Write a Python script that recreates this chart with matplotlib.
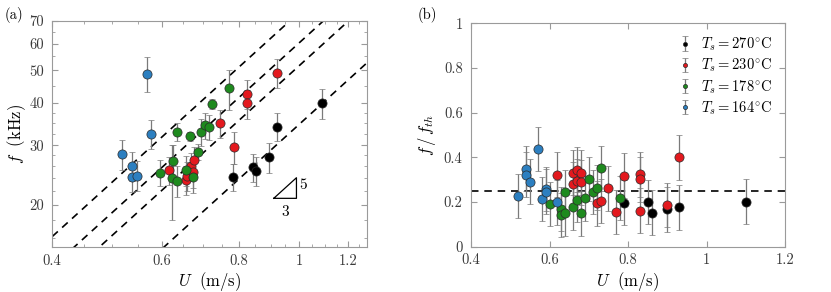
import numpy as np
import matplotlib
matplotlib.use('Agg')
import matplotlib.pyplot as plt
from matplotlib.ticker import FixedLocator, NullFormatter, FixedFormatter

plt.rcParams['font.family'] = 'serif'
plt.rcParams['font.serif'] = ['cmr10']
plt.rcParams['mathtext.fontset'] = 'cm'
plt.rcParams['axes.unicode_minus'] = False

# ---- panel (a): frequency vs velocity (log-log) ----
black_U_a = [0.783, 0.843, 0.853, 0.893, 0.920, 1.087]
black_f_a = [24.2, 25.8, 25.2, 27.7, 34.1, 40.0]
black_e_a = [2.3, 2.5, 2.5, 2.8, 3.3, 4.0]

red_U_a = [0.618, 0.656, 0.659, 0.669, 0.676, 0.675, 0.745, 0.784, 0.823, 0.823, 0.921]
red_f_a = [25.3, 23.7, 24.4, 26.0, 27.1, 25.0, 34.9, 29.7, 42.6, 39.9, 49.2]
red_e_a = [2.4, 2.3, 2.4, 2.5, 2.6, 2.5, 3.3, 3.2, 4.2, 3.9, 5.0]

green_U_a = [0.597, 0.626, 0.624, 0.636, 0.636, 0.656, 0.666, 0.675, 0.686, 0.695, 0.704, 0.715, 0.724, 0.772]
green_f_a = [24.9, 27.0, 24.0, 32.9, 23.6, 25.3, 31.9, 24.2, 28.7, 32.9, 34.4, 34.0, 39.8, 44.2]
green_e_a = [2.2, 3.0, 6.0, 2.0, 2.5, 2.5, 1.0, 2.5, 1.5, 3.0, 3.0, 3.0, 1.4, 6.0]

blue_U_a = [0.518, 0.538, 0.538, 0.548, 0.568, 0.577]
blue_f_a = [28.2, 26.1, 24.2, 24.4, 48.8, 32.4]
blue_e_a = [2.8, 2.6, 2.4, 2.5, 5.8, 3.2]

# prefactors of the f ~ U^(5/3) guide lines
guide_C = [74.2, 60.3, 51.6, 34.6]
slope = 5.0 / 3.0

# ---- panel (b): normalised frequency ----
black_U_b = [0.79, 0.85, 0.86, 0.90, 0.93, 1.10]
black_r_b = [0.197, 0.200, 0.152, 0.167, 0.176, 0.202]

red_U_b = [0.62, 0.66, 0.66, 0.67, 0.67, 0.68, 0.68, 0.72, 0.73, 0.75, 0.77, 0.79, 0.83, 0.83, 0.83, 0.90, 0.93]
red_r_b = [0.322, 0.331, 0.279, 0.345, 0.294, 0.331, 0.288, 0.194, 0.205, 0.261, 0.155, 0.318, 0.324, 0.302, 0.162, 0.187, 0.400]

green_U_b = [0.60, 0.63, 0.63, 0.64, 0.64, 0.66, 0.67, 0.68, 0.69, 0.70, 0.71, 0.72, 0.73, 0.78]
green_r_b = [0.191, 0.169, 0.142, 0.149, 0.245, 0.176, 0.209, 0.150, 0.217, 0.303, 0.245, 0.264, 0.351, 0.218]

blue_U_b = [0.52, 0.54, 0.54, 0.55, 0.57, 0.58, 0.59, 0.59, 0.62]
blue_r_b = [0.227, 0.349, 0.322, 0.291, 0.437, 0.214, 0.258, 0.246, 0.199]

ratio_err = 0.1
ratio_ref = 0.25

labels = [r'$T_s = 270^{\circ}\mathrm{C}$', r'$T_s = 230^{\circ}\mathrm{C}$',
          r'$T_s = 178^{\circ}\mathrm{C}$', r'$T_s = 164^{\circ}\mathrm{C}$']
colors = ['#000000', '#e3191e', '#1e8a1e', '#2c7fc0']

spine_col = '#9a9a9a'
tick_col = '#3a3a3a'

fig = plt.figure(figsize=(8.31, 2.92), dpi=100)
ax1 = fig.add_axes([0.0629, 0.1541, 0.3784, 0.774])
ax2 = fig.add_axes([0.5668, 0.1551, 0.3779, 0.765])

ebar_kw = dict(fmt='o', ms=6.6, mec='#2a2a2a', mew=0.5, ecolor='#7a7a7a',
               elinewidth=0.9, capsize=2.2, capthick=0.8)

sets_a = [(black_U_a, black_f_a, black_e_a), (red_U_a, red_f_a, red_e_a),
          (green_U_a, green_f_a, green_e_a), (blue_U_a, blue_f_a, blue_e_a)]
for (u, f, e), c in zip(sets_a, colors):
    ax1.errorbar(u, f, yerr=e, mfc=c, **ebar_kw)

Ugrid = np.linspace(0.4, 1.3, 100)
for C in guide_C:
    ax1.plot(Ugrid, C * Ugrid ** slope, color='k', ls=(0, (4.5, 3.5)), lw=1.2, zorder=1)

# slope triangle
U0, U1, f0 = 0.91, 0.99, 20.9
f1 = f0 * (U1 / U0) ** slope
ax1.plot([U0, U1, U1, U0], [f0, f0, f1, f0], color='k', lw=0.9)
ax1.text(U1 * 1.012, np.sqrt(f0 * f1) * 1.02, '5', fontsize=11, ha='left', va='center')
ax1.text(np.sqrt(U0 * U1), f0 * 0.955, '3', fontsize=11, ha='center', va='top')

ax1.set_xscale('log')
ax1.set_yscale('log')
ax1.set_xlim(0.4, 1.285)
ax1.set_ylim(15, 70)
xmaj = [0.4, 0.6, 0.8, 1.0, 1.2]
ax1.xaxis.set_major_locator(FixedLocator(xmaj))
ax1.xaxis.set_major_formatter(FixedFormatter(['0.4', '0.6', '0.8', '1', '1.2']))
ax1.xaxis.set_minor_locator(FixedLocator([0.45, 0.5, 0.55, 0.65, 0.7, 0.75, 0.85, 0.9, 0.95,
                                          1.05, 1.1, 1.15, 1.25]))
ax1.xaxis.set_minor_formatter(NullFormatter())
ymaj = [20, 30, 40, 50, 60, 70]
ax1.yaxis.set_major_locator(FixedLocator(ymaj))
ax1.yaxis.set_major_formatter(FixedFormatter([str(v) for v in ymaj]))
ax1.yaxis.set_minor_locator(FixedLocator([16, 18, 22, 24, 26, 28, 32.5, 35, 37.5, 45, 55, 65]))
ax1.yaxis.set_minor_formatter(NullFormatter())
ax1.set_xlabel(r'$U\ \ (\mathrm{m/s})$', fontsize=12, labelpad=2)
ax1.set_ylabel(r'$f\ \ (\mathrm{kHz})$', fontsize=12, labelpad=1)

sets_b = [(black_U_b, black_r_b), (red_U_b, red_r_b),
          (green_U_b, green_r_b), (blue_U_b, blue_r_b)]
for (u, r), c, lab in zip(sets_b, colors, labels):
    ax2.errorbar(u, r, yerr=ratio_err, mfc=c, label=lab, **ebar_kw)
ax2.axhline(ratio_ref, color='k', ls=(0, (4.5, 3.5)), lw=1.2, zorder=1)
ax2.set_xlim(0.4, 1.2)
ax2.set_ylim(0, 1)
ax2.set_xticks([0.4, 0.6, 0.8, 1.0, 1.2])
ax2.set_xticklabels(['0.4', '0.6', '0.8', '1', '1.2'])
ax2.set_yticks([0, 0.2, 0.4, 0.6, 0.8, 1.0])
ax2.set_yticklabels(['0', '0.2', '0.4', '0.6', '0.8', '1'])
ax2.set_xlabel(r'$U\ \ (\mathrm{m/s})$', fontsize=12, labelpad=2)
ax2.set_ylabel(r'$f\,/\,f_{th}$', fontsize=12, labelpad=4)
leg = ax2.legend(loc='upper right', frameon=False, fontsize=10.5, markerscale=0.45,
                 handlelength=0.9, handletextpad=0.6, labelspacing=0.25,
                 borderaxespad=0.3, bbox_to_anchor=(0.99, 0.99))

for ax in (ax1, ax2):
    for s in ax.spines.values():
        s.set_color(spine_col)
        s.set_linewidth(0.8)
    ax.tick_params(which='both', direction='in', top=True, right=True,
                   color=spine_col, labelcolor=tick_col, labelsize=10.5)
    ax.tick_params(axis='x', which='both', pad=5)
    ax.tick_params(axis='y', which='both', pad=6)
    ax.tick_params(which='major', length=4)
    ax.tick_params(which='minor', length=2)

fig.text(0.006, 0.935, '(a)', fontsize=10.5)
fig.text(0.503, 0.935, '(b)', fontsize=10.5)

fig.savefig('out.png', dpi=100)
